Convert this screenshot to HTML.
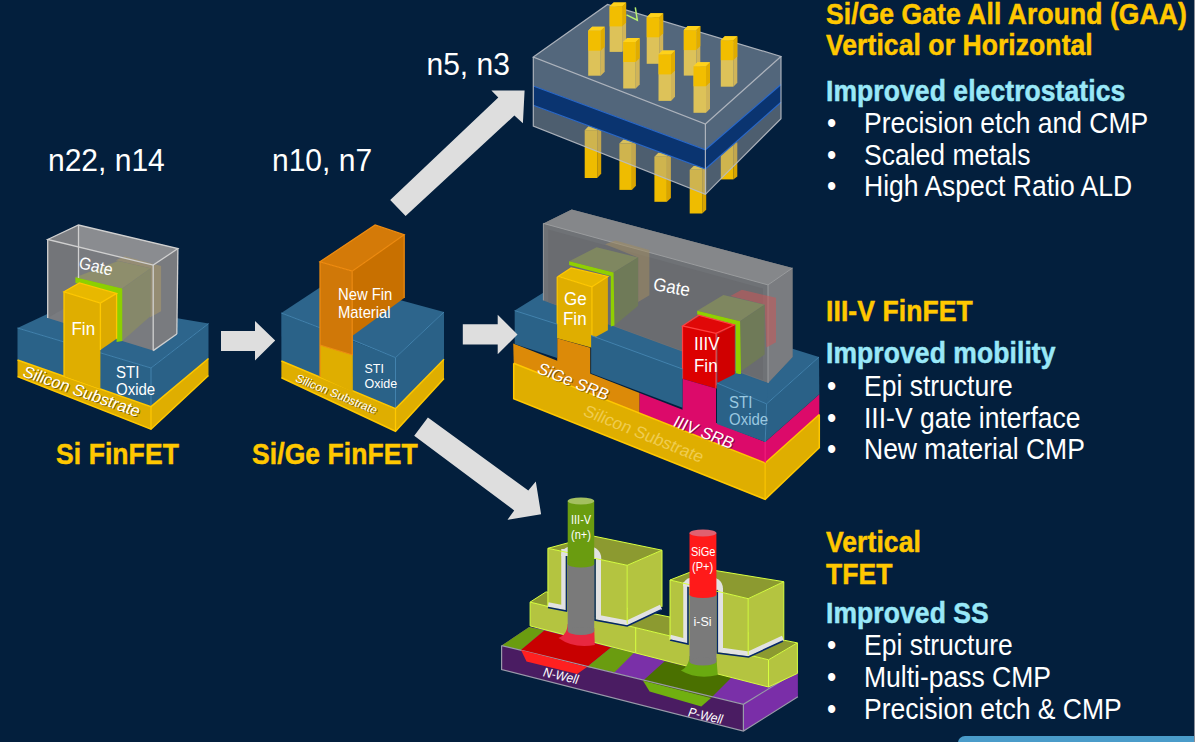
<!DOCTYPE html>
<html><head><meta charset="utf-8">
<style>
html,body{margin:0;padding:0;width:1195px;height:742px;overflow:hidden;background:#031f3d;}
svg{position:absolute;left:0;top:0;}
text{font-family:"Liberation Sans",sans-serif;}
.yt{fill:#ffc800;stroke:#ffc800;stroke-width:0.45px;font-weight:bold;font-size:26.5px;letter-spacing:0.08px;}
.ct{fill:#99e8f8;stroke:#99e8f8;stroke-width:0.45px;font-weight:bold;font-size:26.5px;letter-spacing:0.08px;}
.wt{fill:#ffffff;font-size:26.5px;}
.lb{fill:#ffffff;}
</style></head>
<body>
<svg width="1195" height="742" viewBox="0 0 1195 742">
<!-- ============ RIGHT TEXT ============ -->
<g id="rtext">
<text class="yt" x="826" y="24" transform="matrix(1 0 0 1.08 0 -1.92)">Si/Ge Gate All Around (GAA)</text>
<text class="yt" x="826" y="55.5" transform="matrix(1 0 0 1.08 0 -4.44)">Vertical or Horizontal</text>
<text class="ct" x="826" y="101" transform="matrix(1 0 0 1.08 0 -8.08)">Improved electrostatics</text>
<text class="wt" x="827" y="133" transform="matrix(1 0 0 1.08 0 -10.64)">•</text><text class="wt" x="864" y="133" transform="matrix(1 0 0 1.08 0 -10.64)">Precision etch and CMP</text>
<text class="wt" x="827" y="165" transform="matrix(1 0 0 1.08 0 -13.20)">•</text><text class="wt" x="864" y="165" transform="matrix(1 0 0 1.08 0 -13.20)">Scaled metals</text>
<text class="wt" x="827" y="196.5" transform="matrix(1 0 0 1.08 0 -15.72)">•</text><text class="wt" x="864" y="196.5" transform="matrix(1 0 0 1.08 0 -15.72)">High Aspect Ratio ALD</text>

<text class="yt" x="826" y="321" transform="matrix(1 0 0 1.08 0 -25.68)">III-V FinFET</text>
<text class="ct" x="826" y="363.5" transform="matrix(1 0 0 1.08 0 -29.08)">Improved mobility</text>
<text class="wt" x="827" y="396" transform="matrix(1 0 0 1.08 0 -31.68)">•</text><text class="wt" x="864" y="396" transform="matrix(1 0 0 1.08 0 -31.68)">Epi structure</text>
<text class="wt" x="827" y="428" transform="matrix(1 0 0 1.08 0 -34.24)">•</text><text class="wt" x="864" y="428" transform="matrix(1 0 0 1.08 0 -34.24)">III-V gate interface</text>
<text class="wt" x="827" y="459" transform="matrix(1 0 0 1.08 0 -36.72)">•</text><text class="wt" x="864" y="459" transform="matrix(1 0 0 1.08 0 -36.72)">New material CMP</text>

<text class="yt" x="826" y="552" transform="matrix(1 0 0 1.08 0 -44.16)">Vertical</text>
<text class="yt" x="826" y="584" transform="matrix(1 0 0 1.08 0 -46.72)">TFET</text>
<text class="ct" x="826" y="623.5" transform="matrix(1 0 0 1.08 0 -49.88)">Improved SS</text>
<text class="wt" x="827" y="655" transform="matrix(1 0 0 1.08 0 -52.40)">•</text><text class="wt" x="864" y="655" transform="matrix(1 0 0 1.08 0 -52.40)">Epi structure</text>
<text class="wt" x="827" y="687.5" transform="matrix(1 0 0 1.08 0 -55.00)">•</text><text class="wt" x="864" y="687.5" transform="matrix(1 0 0 1.08 0 -55.00)">Multi-pass CMP</text>
<text class="wt" x="827" y="719.5" transform="matrix(1 0 0 1.08 0 -57.56)">•</text><text class="wt" x="864" y="719.5" transform="matrix(1 0 0 1.08 0 -57.56)">Precision etch &amp; CMP</text>
</g>

<!-- ============ LEFT LABELS ============ -->
<text class="wt" x="48" y="171.3" style="font-size:30px" transform="matrix(1 0 0 1.06 0 -10.26)">n22, n14</text>
<text class="wt" x="272" y="171.3" style="font-size:30px" transform="matrix(1 0 0 1.06 0 -10.26)">n10, n7</text>
<text class="wt" x="426.5" y="75.5" style="font-size:30px" transform="matrix(1 0 0 1.06 0 -4.56)">n5, n3</text>
<text class="yt" x="56" y="464" style="font-size:26.5px" transform="matrix(1 0 0 1.08 0 -37.12)">Si FinFET</text>
<text class="yt" x="252" y="464" style="font-size:26.5px" transform="matrix(1 0 0 1.08 0 -37.12)">Si/Ge FinFET</text>

<!-- ============ Si FinFET ============ -->
<g id="sifin">
<!-- substrate -->
<polygon points="17.5,360 151,406.6 151,429.2 17.5,376.5" fill="#dfae00"/>
<polygon points="151,406.6 208.5,358.5 208.5,375.5 151,429.2" fill="#dfae00"/>
<polyline points="17.5,376.5 151,429.2 208.5,375.5" fill="none" stroke="#ffc800" stroke-width="1.5"/>
<line x1="151" y1="406.6" x2="151" y2="429.2" stroke="#ffc800" stroke-width="1.2"/>
<!-- STI -->
<polygon points="17.5,328 75,301 208.5,323.6 151,368" fill="#2d658c"/>
<polygon points="17.5,328 151,368 151,406.6 17.5,360" fill="#2a6288"/>
<polygon points="151,368 208.5,323.6 208.5,358.5 151,406.6" fill="#2a6187"/>
<polyline points="17.5,328 151,368 208.5,323.6" fill="none" stroke="#4282ad" stroke-width="1"/>
<line x1="151" y1="368" x2="151" y2="406.6" stroke="#4282ad" stroke-width="1"/>
<polyline points="17.5,360 151,406.6 208.5,358.5" fill="none" stroke="#ffc800" stroke-width="1.5"/>
<!-- gate box -->
<polygon points="47.7,239.5 78.5,225 177.9,248.6 176.8,334 153,350.6 47.7,318" fill="#797b7f"/>
<polygon points="47.7,239.5 78.5,225 177.9,248.6 153.2,265.1" fill="#8a8c90"/>
<!-- inner khaki gate -->
<polygon points="47.7,239.5 78.5,225 78.5,300 47.7,318" fill="#6e7074" fill-opacity="0.5"/>
<polygon points="115.8,260.2 124.7,256.2 161.1,265.9 161.1,311.2 149.8,317.6 150.6,268.3" fill="#a8986a" fill-opacity="0.6"/>
<polygon points="75.4,277.2 118.2,261 150.6,268.3 122.3,288.5" fill="#8e8e6c"/>
<polygon points="122.3,288.5 150.6,268.3 150.6,316 122.3,341" fill="#86886a"/>
<!-- green strip -->
<polygon points="75.4,277.2 122.3,288.5 122.3,341 116.6,342 116.6,293.4 75.4,283" fill="#8cd000"/>
<g fill="none" stroke="#d0d0d0" stroke-width="1.3">
<polygon points="47.7,239.5 78.5,225 177.9,248.6 153.2,265.1"/>
<line x1="47.7" y1="239.5" x2="47.7" y2="318"/>
<line x1="153.2" y1="265.1" x2="153.2" y2="350.6"/>
<line x1="177.9" y1="248.6" x2="176.8" y2="334"/>
<line x1="153.2" y1="350.6" x2="176.8" y2="334"/>
<line x1="78.5" y1="225" x2="78.5" y2="278"/>
</g>
<!-- fin -->
<polygon points="64,291.8 79.4,282.9 116.6,293.4 100.4,303.1" fill="#e8b800"/>
<polygon points="100.4,303.1 116.6,293.4 116.6,338.7 100.4,350" fill="#dcaa00"/>
<polygon points="64,291.8 100.4,303.1 100.4,389 64,376" fill="#dfae00"/>
<g fill="none" stroke="#ffc800" stroke-width="1.3">
<polygon points="64,291.8 79.4,282.9 116.6,293.4 100.4,303.1"/>
<line x1="64" y1="291.8" x2="64" y2="376"/>
<line x1="100.4" y1="303.1" x2="100.4" y2="350"/>
<line x1="116.6" y1="293.4" x2="116.6" y2="338.7"/>
</g>
<text class="lb" transform="translate(78,268) rotate(13) scale(1,1.08)" style="font-size:15.8px">Gate</text>
<text class="lb" x="71.5" y="335.5" style="font-size:17px" transform="matrix(1 0 0 1.08 0 -26.84)">Fin</text>
<text class="lb" x="116" y="378" style="font-size:15px" transform="matrix(1 0 0 1.08 0 -30.24)">STI</text>
<text class="lb" x="116" y="395.5" style="font-size:15px" transform="matrix(1 0 0 1.08 0 -31.64)">Oxide</text>
<text transform="translate(22.5,377) rotate(19.5) skewX(-6)" style="font-size:16.4px" fill="#2a2000" fill-opacity="0.55">Silicon Substrate</text><text class="lb" transform="translate(21.5,376) rotate(19.5) skewX(-6)" style="font-size:16.4px">Silicon Substrate</text>
</g>

<!-- ============ Si/Ge FinFET ============ -->
<g id="sigefin">
<polygon points="281.4,361 395.5,408.7 395.5,431.3 281.4,377.7" fill="#dfae00"/>
<polygon points="395.5,408.7 444,359.3 444,378.5 395.5,431.3" fill="#dfae00"/>
<polyline points="281.4,377.7 395.5,431.3 444,378.5" fill="none" stroke="#ffc800" stroke-width="1.5"/>
<line x1="395.5" y1="408.7" x2="395.5" y2="431.3" stroke="#ffc800" stroke-width="1.2"/>
<!-- STI -->
<polygon points="281.3,313 329.8,281 444,312 395.5,357.6" fill="#2d658c"/>
<polygon points="281.3,313 395.5,357.6 395.5,408.7 281.4,361" fill="#2a6288"/>
<polygon points="395.5,357.6 444,312 444,359.3 395.5,408.7" fill="#2a6187"/>
<polyline points="352.8,340 395.5,357.6 444,312" fill="none" stroke="#4282ad" stroke-width="1"/>
<line x1="281.3" y1="313" x2="319.9" y2="327.8" stroke="#4282ad" stroke-width="1"/>
<line x1="395.5" y1="357.6" x2="395.5" y2="408.7" stroke="#4282ad" stroke-width="1"/>
<polyline points="281.4,361 395.5,408.7 444,359.3" fill="none" stroke="#ffc800" stroke-width="1.5"/>
<!-- fin -->
<polygon points="319.9,261.8 375.1,224.9 404.2,234.8 352.2,271.2" fill="#d47a08"/>
<polygon points="352.2,271.2 404.2,234.8 404.2,298.1 352.2,336" fill="#c87000"/>
<polygon points="319.9,261.8 352.2,271.2 352.8,355 320,345" fill="#d07808"/>
<polygon points="320,345 352.8,355 352.8,392 320,377" fill="#dfae00"/>
<g fill="none" stroke="#f08c10" stroke-width="1.2">
<polygon points="319.9,261.8 375.1,224.9 404.2,234.8 352.2,271.2"/>
<line x1="352.2" y1="271.2" x2="352.2" y2="355"/>
<line x1="404.2" y1="234.8" x2="404.2" y2="298.1"/>
<line x1="320" y1="345" x2="352.8" y2="355"/>
</g>
<line x1="320" y1="261.8" x2="320" y2="377" stroke="#f08c10" stroke-width="1.2"/>
<text class="lb" x="338" y="300.5" style="font-size:14.8px" transform="matrix(1 0 0 1.08 0 -24.04)">New Fin</text>
<text class="lb" x="338" y="318" style="font-size:14.8px" transform="matrix(1 0 0 1.08 0 -25.44)">Material</text>
<text class="lb" x="364.5" y="373.5" style="font-size:12.5px" transform="matrix(1 0 0 1.08 0 -29.88)">STI</text>
<text class="lb" x="364.5" y="388" style="font-size:12.5px" transform="matrix(1 0 0 1.08 0 -31.04)">Oxide</text>
<text transform="translate(295.5,382) rotate(22.5) skewX(-6)" style="font-size:11.6px" fill="#2a2000" fill-opacity="0.55">Silicon Substrate</text><text class="lb" transform="translate(294.5,381) rotate(22.5) skewX(-6)" style="font-size:11.6px">Silicon Substrate</text>
</g>

<!-- ============ GAA ============ -->
<defs>
<g id="pil">
<!-- pillar of width 16.5, height h via scale; base shape height 50 -->
<polygon points="0,4 4,0 16.5,0 12.5,4" fill="#ffd21a"/>
<polygon points="12.5,4 16.5,0 16.5,46 12.5,50" fill="#d9a400"/>
<polygon points="0,4 12.5,4 12.5,50 0,50" fill="#efbc00"/>
</g>
<g id="pilt">
<polygon points="0,4 4,0 16.5,0 12.5,4" fill="#ffd21a"/>
<polygon points="12.5,4 16.5,0 16.5,20 12.5,24" fill="#e0ac00"/>
<polygon points="0,4 12.5,4 12.5,24 0,24" fill="#f2be00"/>
</g>
</defs>
<g id="gaa">
<!-- bottom pillars (behind) -->
<use href="#pil" transform="translate(584.7,126) scale(1,1.04)"/>
<use href="#pil" transform="translate(619.4,139.4) scale(1,1.01)"/>
<use href="#pil" transform="translate(654.4,152.8) scale(1,0.98)"/>
<use href="#pil" transform="translate(689.7,166) scale(1,0.95)"/>
<use href="#pil" transform="translate(720.8,142.4) scale(1,0.74)"/>
<!-- lower inner top pillar parts (seen through glass) -->
<g id="toppil">
<use href="#pil" transform="translate(588.2,26.7) scale(1,0.98)"/>
<use href="#pil" transform="translate(609.6,2.4) scale(1,0.99)"/>
<use href="#pil" transform="translate(623.2,38) scale(1,1.01)"/>
<use href="#pil" transform="translate(646.7,13.3) scale(1,1.01)"/>
<use href="#pil" transform="translate(658.5,50.4) scale(1,1.01)"/>
<use href="#pil" transform="translate(683.8,26.1) scale(1,0.99)"/>
<use href="#pil" transform="translate(693.5,62.3) scale(1,1.01)"/>
<use href="#pil" transform="translate(720.8,36.2) scale(1,1.01)"/>
</g>
<!-- box -->
<polygon points="533.3,57 607.5,4.4 781,56.4 705.4,124" fill="#c4cad4" fill-opacity="0.42"/>
<polygon points="533.3,57 705.4,124 705.4,149.8 533.3,86" fill="#b4bcc8" fill-opacity="0.45"/>
<polygon points="533.3,105.3 705.4,169 705.4,194.3 533.3,126" fill="#a8aaae" fill-opacity="0.45"/>
<polygon points="705.4,124 781,56.4 781,84.5 705.4,149.8" fill="#b4bcc8" fill-opacity="0.45"/>
<polygon points="705.4,169 781,102.3 781,118.7 705.4,194.3" fill="#a8aaae" fill-opacity="0.45"/>
<polygon points="533.3,86 705.4,149.8 705.4,169 533.3,105.3" fill="#0a3470"/>
<polygon points="705.4,149.8 781,84.5 781,102.3 705.4,169" fill="#0a3470"/>
<g fill="none" stroke="#2a68c8" stroke-width="1.2">
<polyline points="533.3,86 705.4,149.8 781,84.5"/>
<polyline points="533.3,105.3 705.4,169 781,102.3"/>
</g>
<g fill="none" stroke="#b8bcc4" stroke-width="1.2" stroke-opacity="0.9">
<polygon points="533.3,57 607.5,4.4 781,56.4 705.4,124"/>
<polyline points="533.3,57 533.3,126 705.4,194.3 781,118.7 781,56.4"/>
<line x1="705.4" y1="124" x2="705.4" y2="194.3"/>
</g>
<!-- bright upper parts of top pillars -->
<use href="#pilt" transform="translate(588.2,26.7)"/>
<use href="#pilt" transform="translate(609.6,2.4)"/>
<use href="#pilt" transform="translate(623.2,38)"/>
<use href="#pilt" transform="translate(646.7,13.3)"/>
<use href="#pilt" transform="translate(658.5,50.4)"/>
<use href="#pilt" transform="translate(683.8,26.1)"/>
<use href="#pilt" transform="translate(693.5,62.3)"/>
<use href="#pilt" transform="translate(720.8,36.2)"/>
</g>
<polyline points="626.5,14.8 637.3,20.2 635.3,7.4" fill="none" stroke="#b8f070" stroke-width="1.5"/>

<!-- ============ III-V FinFET ============ -->
<g id="iiiv">
<!-- substrate -->
<polygon points="513.7,363.2 765.2,463 765.2,499.4 513.7,398.7" fill="#dfae00"/>
<polygon points="765.2,463 819.3,414.5 819.3,447.7 765.2,499.4" fill="#dfae00"/>
<polyline points="513.7,363.2 513.7,398.7 765.2,499.4 819.3,447.7 819.3,414.5" fill="none" stroke="#ffc800" stroke-width="1.5"/>
<line x1="765.2" y1="463" x2="765.2" y2="499.4" stroke="#ffc800" stroke-width="1.2"/>
<!-- SRB -->
<polygon points="513.2,343.4 639.6,392.9 639.6,413.2 513.7,363.2" fill="#dc8a08"/>
<polygon points="639.6,392.9 765.2,442 765.2,463 639.6,413.2" fill="#dc0a6a"/>
<polygon points="765.2,442 819.3,394.2 819.3,414.5 765.2,463" fill="#dc0a6a"/>
<polyline points="513.7,363.2 765.2,463 819.3,414.5" fill="none" stroke="#ffc800" stroke-width="1.5"/>
<line x1="765.2" y1="442" x2="765.2" y2="463" stroke="#ff2080" stroke-width="1"/>
<!-- STI top & right -->
<polygon points="514.7,310.6 567,278 819,357 766.6,403.9" fill="#2d658c"/>
<polygon points="766.6,403.9 819,357 819.3,394.2 765.2,442" fill="#2a6187"/>
<!-- gate box -->
<polygon points="543.4,223.4 571.7,209.4 792.5,268 792.5,357 768,383 543.4,300.4" fill="#6f7276"/>
<polygon points="543.4,223.4 571.7,209.4 792.5,268 768,284.9" fill="#85878a"/>
<polygon points="768,284.9 792.5,268 792.5,357 768,383" fill="#7a7c80"/>
<polygon points="548.3,229.5 763,288.5 763,380 548.3,302" fill="#6a6c70"/>
<g fill="none" stroke="#9a9c9e" stroke-width="1">
<polyline points="543.4,300.4 543.4,223.4 768,284.9 768,383"/>
<polyline points="768,284.9 792.5,268"/>
</g>
<!-- inner gates -->
<polygon points="605.1,244.3 615.5,240.6 649.4,250 649.4,295.3 638.1,301.9 638.1,257.5" fill="#a08c60" fill-opacity="0.55"/>
<polygon points="569.2,261.3 596.6,247.2 638.1,257.5 613.6,272.6" fill="#7f8760"/>
<polygon points="613.6,272.6 638.1,257.5 638.1,305.7 614.5,325.5" fill="#6f7a58"/>
<polygon points="730.4,295.9 741.8,289.8 776,297.7 776,342.3 766.4,347.6 764.6,304.7" fill="#c85858" fill-opacity="0.55"/>
<polygon points="697.2,310.8 723.4,295 764.6,304.7 740.1,321.3" fill="#7f8760"/>
<polygon points="740.1,321.3 764.6,304.7 764.6,354.6 740.1,372.1" fill="#6f7a58"/>
<!-- green strips -->
<polygon points="569.2,261.3 613.6,272.6 614.5,325.5 610.8,326.5 610.8,276 569.2,265" fill="#90d000"/>
<polygon points="697.2,310.8 740.1,321.3 741,373.9 735.7,374 735.7,325 697.2,314.5" fill="#90d000"/>
<!-- Ge fin -->
<polygon points="558,276.4 571.1,267.9 607.9,276.4 591.9,286.8" fill="#e8b800"/>
<polygon points="591.9,286.8 607.9,276.4 607.9,330.2 591.9,339" fill="#dcaa00"/>
<polygon points="557.2,276.4 591.9,286.8 591.9,347.7 557.2,338.3" fill="#dfae00"/>
<polygon points="557.2,338.3 590.2,347.7 590.2,392 557.2,380" fill="#dc8a08"/>
<g fill="none" stroke="#ffc800" stroke-width="1.2">
<polygon points="558,276.4 571.1,267.9 607.9,276.4 591.9,286.8"/>
<line x1="591.9" y1="286.8" x2="591.9" y2="347.7"/>
<line x1="557.2" y1="277" x2="557.2" y2="338.3"/>
</g>
<!-- III-V fin -->
<polygon points="683.1,325.7 699.8,315.7 734.8,324.8 717.3,334.5" fill="#e00808"/>
<polygon points="717.3,334.5 734.8,324.8 734.8,373.9 717.3,388.4" fill="#d00000"/>
<polygon points="682.5,325.9 716,333.4 716,388.4 682.5,378.7" fill="#dc0000"/>
<polygon points="682.5,378.7 716,388.4 716,436 682.5,424" fill="#dc0a6a"/>
<g fill="none" stroke="#ff4040" stroke-width="1.2">
<polygon points="682.5,325.9 698.7,315.1 734.3,324.8 716,333.4"/>
<line x1="716" y1="333.4" x2="716" y2="388.4"/>
<line x1="682.5" y1="325.9" x2="682.5" y2="378.7"/>
</g>
<!-- STI front blocks -->
<polygon points="514.7,310.6 557.2,324.2 557.2,358 514.7,344" fill="#2a6288"/>
<polygon points="591.1,335.5 682.5,369 682.5,407.8 591.1,373.2" fill="#2a6288"/>
<polygon points="717,383 766.6,403.9 765.2,442 717,424" fill="#2a6288"/>
<polygon points="717,383 736.4,373.3 768,383 766.6,403.9" fill="#2d658c"/>
<g fill="none" stroke="#4282ad" stroke-width="1">
<line x1="514.7" y1="310.6" x2="557.2" y2="324.2"/>
<line x1="591.1" y1="335.5" x2="682.5" y2="369"/>
<line x1="717" y1="383" x2="766.6" y2="403.9"/>
<line x1="766.6" y1="403.9" x2="819" y2="357"/>
<line x1="766.6" y1="403.9" x2="765.2" y2="442"/>
</g>
<text class="lb" transform="translate(652.5,290) rotate(10) scale(1,1.08)" style="font-size:17px">Gate</text>
<text class="lb" x="564" y="305" style="font-size:17px" transform="matrix(1 0 0 1.08 0 -24.40)">Ge</text>
<text class="lb" x="563" y="325" style="font-size:17px" transform="matrix(1 0 0 1.08 0 -26.00)">Fin</text>
<text class="lb" x="694" y="350" style="font-size:17px" transform="matrix(1 0 0 1.08 0 -28.00)">IIIV</text>
<text class="lb" x="694" y="372" style="font-size:17px" transform="matrix(1 0 0 1.08 0 -29.76)">Fin</text>
<text x="729" y="408" style="font-size:15px" fill="#9ac8e0" transform="matrix(1 0 0 1.08 0 -32.64)">STI</text>
<text x="729" y="425.5" style="font-size:15px" fill="#9ac8e0" transform="matrix(1 0 0 1.08 0 -34.04)">Oxide</text>
<text transform="translate(537,373.5) rotate(22) skewX(-6)" style="font-size:16.5px" fill="#2a2000" fill-opacity="0.5">SiGe SRB</text>
<text class="lb" transform="translate(536,372.5) rotate(22) skewX(-6)" style="font-size:16.5px">SiGe SRB</text>
<text transform="translate(673,426.5) rotate(22) skewX(-6)" style="font-size:16.5px" fill="#3a0020" fill-opacity="0.5">IIIV SRB</text>
<text class="lb" transform="translate(672,425.5) rotate(22) skewX(-6)" style="font-size:16.5px">IIIV SRB</text>
<text transform="translate(582,415) rotate(22) skewX(-6)" style="font-size:17px" fill="#f0cc50">Silicon Substrate</text>
</g>

<!-- ============ TFET ============ -->
<g id="tfet">
<!-- purple base -->
<polygon points="501.6,645.6 529.2,626.9 797.9,670.8 743.4,704.3" fill="#7a30a8"/>
<polygon points="501.6,645.6 743.4,704.3 743.4,731.1 501.6,669.6" fill="#4a1c62"/>
<polygon points="743.4,704.3 797.9,670.8 797.9,696.7 743.4,731.1" fill="#7a2ea8"/>
<!-- top colored regions -->
<polygon points="501.6,645.6 529.2,626.9 544.3,630.5 521,650" fill="#6a9c10"/>
<polygon points="521,650 544.3,630.5 611,647.4 587,667" fill="#c80000"/>
<polygon points="587,667 611,647.4 634,652.7 614.6,672.3" fill="#6a9c10"/>
<polygon points="643,680.8 664.7,661.3 731.5,677.5 711,698" fill="#4a7000"/>
<g fill="none" stroke="#9a9aaa" stroke-width="1.2">
<polyline points="501.6,645.6 501.6,669.6 743.4,731.1 797.9,696.7"/>
<polyline points="501.6,645.6 743.4,704.3 797.9,670.8"/>
<line x1="743.4" y1="704.3" x2="743.4" y2="731.1"/>
</g>
<polygon points="521,650 587,667 577.2,674 526.5,661.6" fill="#ff2020"/>
<polygon points="643,680.8 711,698 701.3,706.6 649.6,691.5" fill="#70b010"/>
<!-- lower lime slab -->
<polygon points="530.1,602.1 546,591.9 797.4,642.9 768.5,659.8" fill="#8c9a30"/>
<polygon points="530.1,602.1 768.5,659.8 768.5,687 530.1,625.9" fill="#b4c440"/>
<polygon points="768.5,659.8 797.4,642.9 797.4,673.4 768.5,687" fill="#b4c440"/>
<g fill="none" stroke="#d8ff40" stroke-width="1">
<polygon points="530.1,602.1 546,591.9 797.4,642.9 768.5,659.8"/>
<polyline points="530.1,602.1 530.1,625.9 768.5,687 797.4,673.4 797.4,642.9"/>
<line x1="768.5" y1="659.8" x2="768.5" y2="687"/>
<line x1="635.7" y1="628" x2="635.7" y2="652.5"/>
</g>
<!-- left gate block -->
<polygon points="547.9,548.3 593.2,536 662,550.2 627.2,565.3" fill="#8c9a30"/>
<polygon points="547.9,548.3 627.2,565.3 627.2,623.8 547.9,605.8" fill="#b4c440"/>
<polygon points="627.2,565.3 662,550.2 662,606.8 627.2,623.8" fill="#b4c440"/>
<polyline points="548,604.5 563.5,607.5 563.5,549" fill="none" stroke="#e2e2e2" stroke-width="4.5"/>
<polyline points="548,607.5 566.5,611 566.5,553" fill="none" stroke="#06286a" stroke-width="1.6"/>
<polyline points="598.5,557 598.5,617.5 627.2,623 661,607" fill="none" stroke="#e2e2e2" stroke-width="5"/>
<polyline points="595,559 595,620 627.2,626 661,610" fill="none" stroke="#06286a" stroke-width="1.6"/>
<path d="M561.1,556 Q561.1,545 580.9,545 Q601.3,545 601.3,559 L594,559 L567.7,556 Z" fill="#e2e2e2"/>
<g fill="none" stroke="#d8ff40" stroke-width="1">
<polygon points="547.9,548.3 593.2,536 662,550.2 627.2,565.3"/>
<polyline points="547.9,548.3 547.9,605.8"/>
<polyline points="627.2,565.3 627.2,623.8"/>
<polyline points="662,550.2 662,606.8"/>
</g>
<!-- right gate block -->
<polygon points="670,580 700.6,568.1 783.8,581.7 748.2,598.7" fill="#8c9a30"/>
<polygon points="670,580 748.2,598.7 748.2,655 670,640" fill="#b4c440"/>
<polygon points="748.2,598.7 783.8,581.7 783.8,639.5 748.2,655" fill="#b4c440"/>
<polyline points="670,637 685.5,641 685.5,582" fill="none" stroke="#e2e2e2" stroke-width="4.5"/>
<polyline points="670,640 688,644 688,586" fill="none" stroke="#06286a" stroke-width="1.6"/>
<polyline points="720.5,588 720.5,650 748.5,654 783,638" fill="none" stroke="#e2e2e2" stroke-width="5"/>
<polyline points="717.3,590 717.3,653 748.5,657 783,641" fill="none" stroke="#06286a" stroke-width="1.6"/>
<path d="M683,586 Q683,576 703,576 Q723,576 723,589 L716,590 L689.5,587 Z" fill="#e2e2e2"/>
<g fill="none" stroke="#d8ff40" stroke-width="1">
<polygon points="670,580 700.6,568.1 783.8,581.7 748.2,598.7"/>
<polyline points="670,580 670,640"/>
<polyline points="748.2,598.7 748.2,655"/>
<polyline points="783.8,581.7 783.8,639.5"/>
</g>
<!-- left pillar -->
<path d="M567.7,624 C567.5,631 564,636 558.5,638 Q574,649 594.8,645 L594.2,628 Z" fill="#e82840"/>
<rect x="567.7" y="564" width="26.5" height="67" fill="#7a7a7a"/>
<ellipse cx="580.95" cy="631" rx="13.25" ry="4" fill="#7a7a7a"/>
<rect x="567.7" y="501" width="26.5" height="63" fill="#6a9c10"/>
<ellipse cx="580.95" cy="564" rx="13.25" ry="3.5" fill="#6a9c10"/>
<ellipse cx="580.95" cy="501" rx="13.25" ry="3.5" fill="#a4c060"/>
<!-- right pillar -->
<path d="M689.5,656 C689.3,663 686,668 680.9,670.5 Q697,680 717.8,675 L716.4,658 Z" fill="#6aaa10"/>
<rect x="689.5" y="594.5" width="26.9" height="67" fill="#7a7a7a"/>
<ellipse cx="702.95" cy="661.5" rx="13.45" ry="4" fill="#7a7a7a"/>
<rect x="689.5" y="533" width="26.9" height="61.5" fill="#ff1a1a"/>
<ellipse cx="702.95" cy="594.5" rx="13.45" ry="3.5" fill="#ff1a1a"/>
<ellipse cx="702.95" cy="533" rx="13.45" ry="3.5" fill="#e06070"/>
<text class="lb" x="571" y="524" style="font-size:11px" transform="matrix(1 0 0 1.08 0 -41.92)">III-V</text>
<text class="lb" x="571" y="539" style="font-size:11px" transform="matrix(1 0 0 1.08 0 -43.12)">(n+)</text>
<text class="lb" x="691" y="556" style="font-size:11px" transform="matrix(1 0 0 1.08 0 -44.48)">SiGe</text>
<text class="lb" x="692" y="571" style="font-size:11px" transform="matrix(1 0 0 1.08 0 -45.68)">(P+)</text>
<text class="lb" x="693.5" y="626" style="font-size:12.5px" transform="matrix(1 0 0 1.08 0 -50.08)">i-Si</text>
<text class="lb" transform="translate(542,676) rotate(13) skewX(-8) scale(1,1.08)" style="font-size:12px">N-Well</text>
<text class="lb" transform="translate(687,716) rotate(13) skewX(-8) scale(1,1.08)" style="font-size:12px">P-Well</text>
</g>

<!-- ============ ARROWS ============ -->
<g fill="#dedede">
<polygon points="221,331 255,331 255,320.9 275.2,340.6 255,360.6 255,350.9 221,350.9"/>
<polygon points="462.8,324.2 497.7,324.2 497.7,314.7 517.5,334.5 497.7,354.3 497.7,344.5 462.8,344.5"/>
<polygon points="390.2,200 498.3,97.6 491.4,90.4 524.6,90.4 522.9,123.2 514.4,115.5 405.6,216.1"/>
<polygon points="427.9,417.4 528.3,490.6 535.8,481.5 541.1,514.2 507.5,519.8 514.2,510.4 414.2,435.8"/>
</g>

<!-- blue bar -->
<rect x="958" y="736" width="260" height="20" rx="7" fill="#4a9cca"/>
<rect x="1194" y="0" width="1" height="742" fill="#8a8e98"/>
</svg>
</body></html>
